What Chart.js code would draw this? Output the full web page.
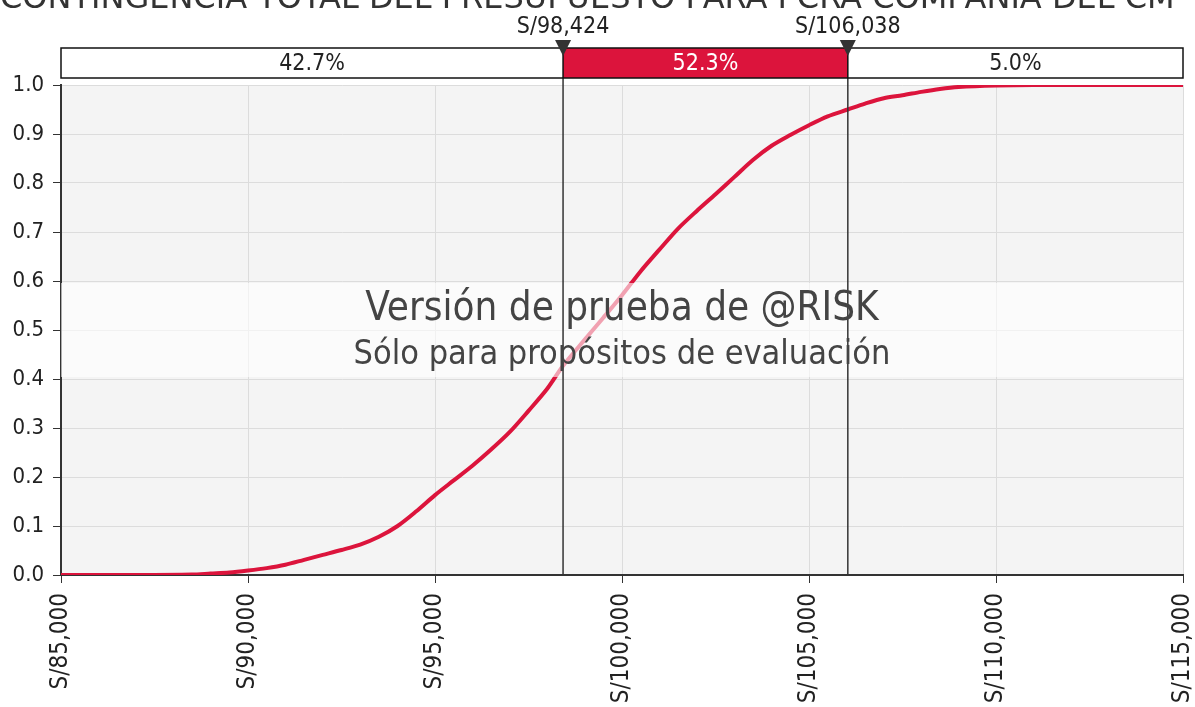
<!DOCTYPE html>
<html>
<head>
<meta charset="utf-8">
<script src="https://cdn.jsdelivr.net/npm/chart.js@4/dist/chart.umd.min.js"></script>
<style>
  body { margin: 0; background: #fff; }
  canvas { display: block; }
</style>
</head>
<body>
<canvas id="chart" width="1195" height="707"></canvas>
<script>
const title = 'CONTINGENCIA TOTAL DEL PRESUPUESTO PARA PCRA COMPAÑÍA DEL CM';

// cumulative probability
const costs = [85000, 87000, 88500, 89000, 89500, 90000, 90500, 91000, 91500, 92000,
    92500, 93000, 93500, 94000, 94500, 95000, 95500, 96000, 96500, 97000,
    97500, 98000, 98424, 99000, 99500, 100000, 100500, 101000, 101500, 102000,
    102500, 103000, 103500, 104000, 104500, 105000, 105500, 106038, 106500, 107000,
    107500, 108000, 108500, 109000, 110000, 111000, 115000];
const cumProb = [0, 0, 0.001, 0.003, 0.005, 0.009, 0.014, 0.021, 0.031, 0.041,
    0.051, 0.062, 0.078, 0.1, 0.13, 0.163, 0.193, 0.223, 0.256, 0.292,
    0.335, 0.38, 0.427, 0.48, 0.525, 0.571, 0.62, 0.664, 0.707, 0.743,
    0.777, 0.812, 0.847, 0.876, 0.898, 0.918, 0.936, 0.95, 0.962, 0.973,
    0.979, 0.986, 0.992, 0.996, 0.999, 1.0, 1.0];

const markers = [98424, 106038];
const bandLabels = ['42.7%', '52.3%', '5.0%'];
const watermark = ['Versión de prueba de @RISK', 'Sólo para propósitos de evaluación'];

const FONT = '"DejaVu Sans Condensed", "DejaVu Sans", sans-serif';
const RED = '#dc143c';

const fmt = v => 'S/' + v.toLocaleString('en-US');

const overlay = {
    id: 'overlay',
    beforeDraw(chart) {
        const { ctx, chartArea: a } = chart;
        ctx.save();
        ctx.fillStyle = '#f4f4f4';
        ctx.fillRect(a.left, a.top, a.right - a.left, a.bottom - a.top);
        ctx.restore();
    },
    afterDatasetsDraw(chart) {
        const { ctx, chartArea: a, scales } = chart;
        const x = scales.x, y = scales.y;
        ctx.save();

        // watermark band (over the curve)
        const bTop = y.getPixelForValue(0.6) + 2;
        const bBot = y.getPixelForValue(0.4) - 2;
        ctx.fillStyle = 'rgba(255,255,255,0.6)';
        ctx.fillRect(a.left, bTop, a.right - a.left, bBot - bTop);

        // marker lines
        const mx = markers.map(m => x.getPixelForValue(m));
        ctx.strokeStyle = '#333';
        ctx.lineWidth = 1.5;
        mx.forEach(px => {
            ctx.beginPath();
            ctx.moveTo(px, 78);
            ctx.lineTo(px, a.bottom);
            ctx.stroke();
        });

        // watermark text
        ctx.fillStyle = '#444';
        ctx.textAlign = 'center';
        ctx.textBaseline = 'alphabetic';
        const cx = (a.left + a.right) / 2;
        ctx.font = '40px ' + FONT;
        ctx.fillText(watermark[0], cx, 320);
        ctx.font = '34px ' + FONT;
        ctx.fillText(watermark[1], cx, 364);

        // top band with percentages
        const x0 = a.left, x1 = a.right;
        const t = 48, h = 30;
        ctx.fillStyle = '#fff';
        ctx.fillRect(x0, t, x1 - x0, h);
        ctx.fillStyle = RED;
        ctx.fillRect(mx[0], t, mx[1] - mx[0], h);
        ctx.strokeStyle = '#111';
        ctx.lineWidth = 1.5;
        ctx.strokeRect(x0, t, x1 - x0, h);
        ctx.beginPath();
        ctx.moveTo(mx[0], t); ctx.lineTo(mx[0], t + h);
        ctx.moveTo(mx[1], t); ctx.lineTo(mx[1], t + h);
        ctx.stroke();

        ctx.font = '23px ' + FONT;
        ctx.textBaseline = 'middle';
        const segs = [[x0, mx[0]], [mx[0], mx[1]], [mx[1], x1]];
        segs.forEach((s, i) => {
            ctx.fillStyle = i === 1 ? '#fff' : '#222';
            ctx.fillText(bandLabels[i], (s[0] + s[1]) / 2, t + h / 2 + 1);
        });

        // triangles and value labels
        mx.forEach((px, i) => {
            ctx.fillStyle = '#333';
            ctx.beginPath();
            ctx.moveTo(px - 8, 40);
            ctx.lineTo(px + 8, 40);
            ctx.lineTo(px, 56);
            ctx.closePath();
            ctx.fill();
            ctx.fillStyle = '#222';
            ctx.textBaseline = 'alphabetic';
            ctx.fillText(fmt(markers[i]), px, 33);
        });

        // title, cut off at the top edge
        ctx.font = '32px "DejaVu Sans", sans-serif';
        ctx.fillStyle = '#333';
        ctx.textAlign = 'left';
        ctx.fillText(title, 0, 8);
        ctx.restore();
    }
};

new Chart(document.getElementById('chart'), {
    type: 'line',
    data: {
        datasets: [{
            data: costs.map((c, i) => ({ x: c, y: cumProb[i] })),
            borderColor: RED,
            backgroundColor: RED,
            borderWidth: 4,
            pointRadius: 0,
            tension: 0.3,
            fill: false
        }]
    },
    options: {
        responsive: false,
        animation: false,
        layout: { padding: { top: 85, right: 12, left: 0, bottom: 0 } },
        plugins: { legend: { display: false }, tooltip: { enabled: false } },
        scales: {
            x: {
                type: 'linear',
                min: 85000,
                max: 115000,
                afterFit: s => { s.height = 132; s.paddingLeft = 0; s.paddingRight = 0; },
                border: { color: '#333', width: 2 },
                grid: { color: '#dcdcdc', tickColor: '#333', tickLength: 8, lineWidth: 1 },
                ticks: {
                    stepSize: 5000,
                    minRotation: 90,
                    maxRotation: 90,
                    padding: 10,
                    color: '#222',
                    font: { family: FONT, size: 24 },
                    callback: v => fmt(v)
                }
            },
            y: {
                min: 0,
                max: 1,
                afterFit: s => { s.width = 61; s.paddingTop = 0; s.paddingBottom = 0; },
                border: { color: '#333', width: 2 },
                grid: { color: '#dcdcdc', tickColor: '#333', tickLength: 8, lineWidth: 1 },
                ticks: {
                    stepSize: 0.1,
                    padding: 9,
                    color: '#222',
                    font: { family: FONT, size: 22 },
                    callback: v => v.toFixed(1)
                }
            }
        }
    },
    plugins: [overlay]
});
</script>
</body>
</html>
